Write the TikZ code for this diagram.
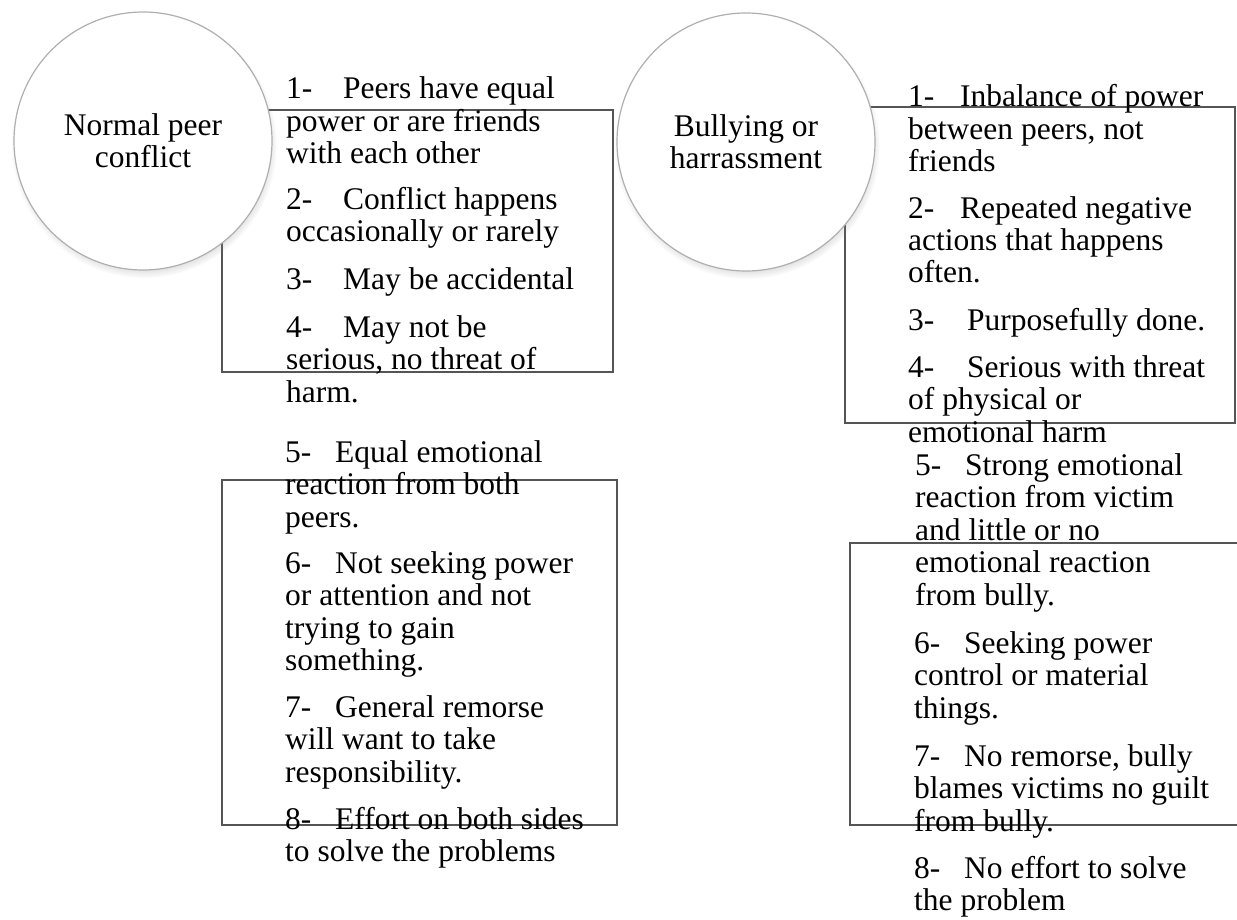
\documentclass[tikz,border=0pt]{standalone}
\usepackage{fontspec}
\setmainfont{Liberation Serif}
\usetikzlibrary{shadows}

\newcommand{\itemnum}[2]{\makebox[#2pt][l]{#1}}

\begin{document}
\begin{tikzpicture}[x=1pt,y=-1pt,
    panel/.style={draw=boxline, line width=2.2pt},
    topic/.style={circle, draw=ringline, line width=1.2pt, fill=white,
        minimum size=258pt, inner sep=0pt, align=center,
        font=\fontsize{31.5}{32}\selectfont,
        circular drop shadow={shadow xshift=1pt, shadow yshift=-4pt,
            shadow scale=1.03, opacity=0.5}},
    entry/.style={anchor=base west, align=left, inner sep=0pt,
        font=\fontsize{31.5}{32.5}\selectfont}]
    % Define colors
    \definecolor{boxline}{RGB}{85,85,85}
    \definecolor{ringline}{RGB}{175,175,175}

    \path[use as bounding box] (0,0) rectangle (1237,920);

    % Boxes behind the circles
    \draw[panel] (222,110) rectangle (613,372);
    \draw[panel] (222,480) rectangle (617,825);
    \draw[panel] (845,107) rectangle (1235,423);
    \draw[panel] (1240,543) -- (850,543) -- (850,825) -- (1240,825);

    % Circles
    \node[topic] (normal) at (143,141) {Normal peer\\conflict};
    \node[topic] (bully) at (746,142) {Bullying or\\harrassment};

    % Items are placed at the baseline of their last line
    % Normal peer conflict: items 1-4
    \node[entry] (n1) at (286,164) {\itemnum{1-}{57}Peers have equal\\power or are friends\\with each other};
    \node[entry] (n2) at (286,242) {\itemnum{2-}{57}Conflict happens\\occasionally or rarely};
    \node[entry] (n3) at (286,289) {\itemnum{3-}{57}May be accidental};
    \node[entry] (n4) at (286,402) {\itemnum{4-}{57}May not be\\serious, no threat of\\harm.};

    % Normal peer conflict: items 5-8
    \node[entry] (n5) at (285,527) {\itemnum{5-}{50}Equal emotional\\reaction from both\\peers.};
    \node[entry] (n6) at (285,670.5) {\itemnum{6-}{50}Not seeking power\\or attention and not\\trying to gain\\something.};
    \node[entry] (n7) at (285,782) {\itemnum{7-}{50}General remorse\\will want to take\\responsibility.};
    \node[entry] (n8) at (285,861.5) {\itemnum{8-}{50}Effort on both sides\\to solve the problems};

    % Bullying or harrassment: items 1-4
    \node[entry] (b1) at (908,172) {\itemnum{1-}{52}Inbalance of power\\between peers, not\\friends};
    \node[entry] (b2) at (908,283) {\itemnum{2-}{52}Repeated negative\\actions that happens\\often.};
    \node[entry] (b3) at (908,330) {\itemnum{3-}{59}Purposefully done.};
    \node[entry] (b4) at (908,442) {\itemnum{4-}{59}Serious with threat\\of physical or\\emotional harm};

    % Bullying or harrassment: items 5-8
    \node[entry] (b5) at (915,605) {\itemnum{5-}{50}Strong emotional\\reaction from victim\\and little or no\\emotional reaction\\from bully.};
    \node[entry] (b6) at (914,718) {\itemnum{6-}{50}Seeking power\\control or material\\things.};
    \node[entry] (b7) at (914,831) {\itemnum{7-}{50}No remorse, bully\\blames victims no guilt\\from bully.};
    \node[entry] (b8) at (914,910.5) {\itemnum{8-}{50}No effort to solve\\the problem};

\end{tikzpicture}
\end{document}
